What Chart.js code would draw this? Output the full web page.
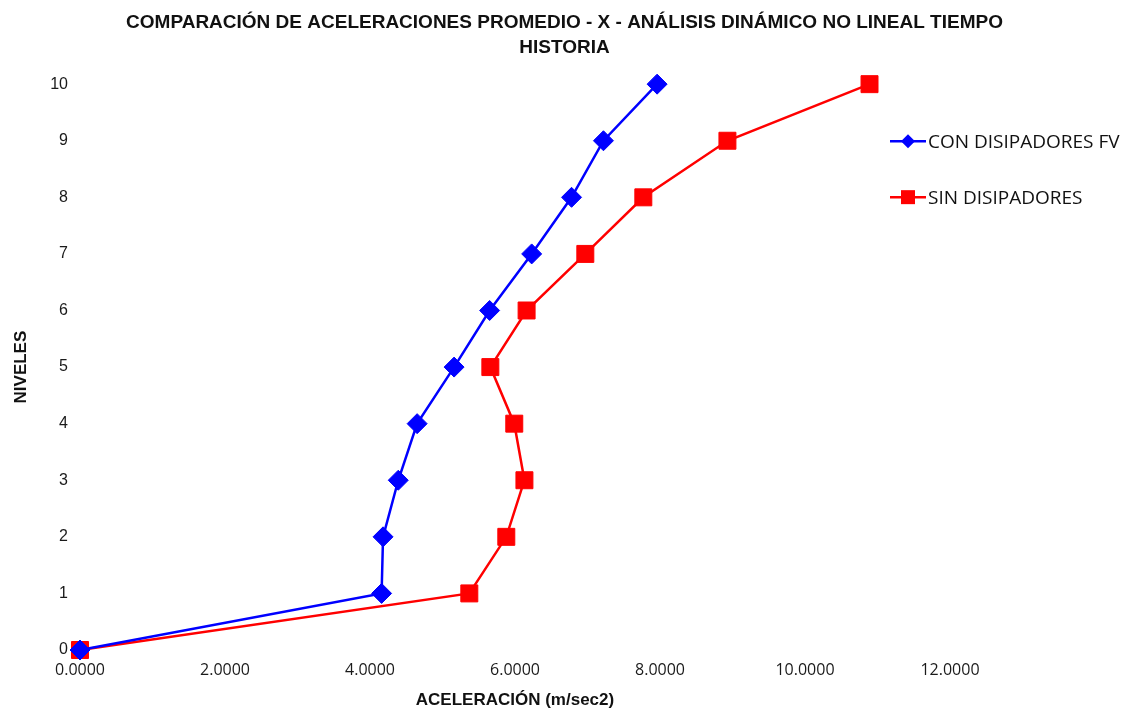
<!DOCTYPE html>
<html>
<head>
<meta charset="utf-8">
<script src="https://cdn.jsdelivr.net/npm/chart.js@4.4.0/dist/chart.umd.min.js"></script>
<style>
  html, body { margin: 0; padding: 0; background: #fff; }
  #wrap { width: 1129px; height: 711px; }
</style>
</head>
<body>
<div id="wrap"><canvas id="myChart"></canvas></div>
<script>
// niveles (eje Y) y aceleraciones (eje X)
var niveles = [0, 1, 2, 3, 4, 5, 6, 7, 8, 9, 10];
var conDisipadores = [0.0, 4.16, 4.18, 4.39, 4.65, 5.16, 5.65, 6.23, 6.78, 7.22, 7.96];
var sinDisipadores = [0.0, 5.37, 5.88, 6.13, 5.99, 5.66, 6.16, 6.97, 7.77, 8.93, 10.89];
var serieNombres = ['CON DISIPADORES FV', 'SIN DISIPADORES'];
var tituloLineas = ['COMPARACIÓN DE ACELERACIONES PROMEDIO - X - ANÁLISIS DINÁMICO NO LINEAL TIEMPO', 'HISTORIA'];

function toPoints(xs) {
    return xs.map((x, i) => ({ x: x, y: niveles[i] }));
}

// leyenda dibujada a mano, a la derecha del area del grafico
var legendaDerecha = {
    id: 'legendaDerecha',
    afterDraw(chart) {
        let ctx = chart.ctx;
        let x0 = chart.chartArea.right - 60;
        let y0 = chart.chartArea.top + 57;
        chart.data.datasets.forEach((ds, i) => {
            let y = y0 + i * 56;
            ctx.save();
            ctx.strokeStyle = ds.borderColor;
            ctx.lineWidth = 2.5;
            ctx.beginPath();
            ctx.moveTo(x0, y);
            ctx.lineTo(x0 + 36, y);
            ctx.stroke();
            ctx.fillStyle = ds.backgroundColor;
            ctx.beginPath();
            if (ds.pointStyle == 'rectRot') {
                ctx.moveTo(x0 + 18, y - 7); ctx.lineTo(x0 + 25, y); ctx.lineTo(x0 + 18, y + 7); ctx.lineTo(x0 + 11, y);
            } else {
                ctx.rect(x0 + 11, y - 7, 14, 14);
            }
            ctx.closePath();
            ctx.fill();
            ctx.fillStyle = '#111';
            ctx.font = '19px "Open Sans"';
            ctx.textBaseline = 'middle';
            ctx.fillText(ds.label, x0 + 38, y + 1);
            ctx.restore();
        });
    }
};

new Chart('myChart', {
    type: 'line',
    data: {
        datasets: [{
            label: serieNombres[0],
            data: toPoints(conDisipadores),
            borderColor: '#0000ff',
            backgroundColor: '#0000ff',
            borderWidth: 2.5,
            pointStyle: 'rectRot',
            pointRadius: 10,
            pointHoverRadius: 10,
            pointBorderWidth: 1,
            fill: false,
            clip: false
        }, {
            label: serieNombres[1],
            data: toPoints(sinDisipadores),
            borderColor: '#ff0000',
            backgroundColor: '#ff0000',
            borderWidth: 2.5,
            pointStyle: 'rect',
            pointRadius: 12,
            pointHoverRadius: 12,
            pointBorderWidth: 1,
            fill: false,
            clip: false
        }]
    },
    options: {
        responsive: true,
        maintainAspectRatio: false,
        animation: false,
        layout: { padding: 0 },
        plugins: {
            legend: { display: false },
            tooltip: { enabled: false },
            title: {
                display: true,
                text: tituloLineas,
                color: '#111',
                font: { family: '"Liberation Sans", Arial', size: 19, weight: 'bold', lineHeight: 1.32 },
                padding: { top: 10, bottom: 24 }
            }
        },
        scales: {
            x: {
                type: 'linear',
                min: 0,
                max: 12,
                grid: { display: false },
                border: { display: false },
                ticks: {
                    stepSize: 2,
                    padding: 3,
                    color: '#1a1a1a',
                    font: { family: '"Open Sans"', size: 16 },
                    callback: v => v.toFixed(4)
                },
                title: {
                    display: true,
                    text: 'ACELERACIÓN (m/sec2)',
                    color: '#111',
                    font: { family: '"Liberation Sans", Arial', size: 17, weight: 'bold' },
                    padding: { top: 2, bottom: 0 }
                },
                afterFit: s => { s.height = 61; }
            },
            y: {
                type: 'linear',
                min: 0,
                max: 10,
                grid: { display: false },
                border: { display: false },
                ticks: {
                    stepSize: 1,
                    padding: 4,
                    color: '#1a1a1a',
                    font: { family: '"Liberation Sans", Arial', size: 16 }
                },
                title: {
                    display: true,
                    text: 'NIVELES',
                    color: '#111',
                    font: { family: '"Liberation Sans", Arial', size: 17, weight: 'bold' },
                    padding: { top: 11, bottom: 0 }
                },
                afterFit: s => { s.width = 80; }
            },
            // eje vacio a la derecha para dejar sitio a la leyenda
            yDerecha: {
                type: 'linear',
                position: 'right',
                min: 0,
                max: 10,
                grid: { display: false },
                border: { display: false },
                ticks: { display: false },
                afterFit: s => { s.width = 179; }
            }
        }
    },
    plugins: [legendaDerecha]
});
</script>
</body>
</html>
